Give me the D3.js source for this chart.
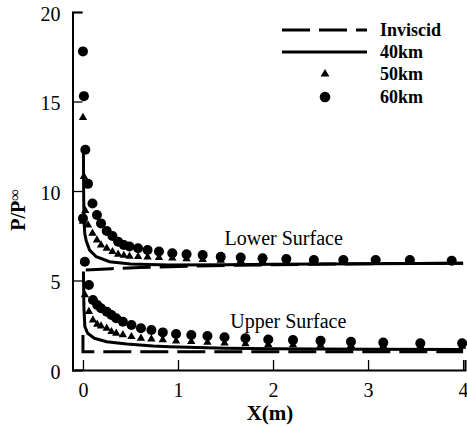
<!DOCTYPE html>
<html><head><meta charset="utf-8">
<script src="https://cdn.jsdelivr.net/npm/d3@7"></script>
<style>body{margin:0;background:#fff}svg{display:block}</style>
</head><body><svg id="c" width="467" height="429"></svg>
<script>
// ---- data ----
const xTicks = [0,1,2,3,4];
const yTicks = [0,5,10,15,20];
const legendLabels = ["Inviscid","40km","50km","60km"];

// Inviscid
const invLowerX = [0.03,0.3,0.6,1,1.5,2,3,4];
const invLowerP = [5.58,5.66,5.72,5.78,5.84,5.88,5.94,5.97];
const invUpperX = [0,0,4];
const invUpperP = [1.95,1.02,1.02];

// 40km (solid)
const km40LowerX = [0.005,0.008,0.012,0.02,0.035,0.07,0.14,0.28,0.5,0.9,1.5,2,3,4];
const km40LowerP = [12.2,9.5,8.2,7.6,7.2,6.7,6.33,6.05,5.92,5.87,5.88,5.91,5.94,5.97];
const km40UpperX = [0.005,0.01,0.02,0.05,0.12,0.25,0.46,0.74,0.91,1.5,2,3,4];
const km40UpperP = [5.5,3.5,2.42,2.05,1.77,1.58,1.45,1.34,1.30,1.22,1.19,1.16,1.15];

// grids of the viscous points
const lowerX = [0,0.01,0.025,0.053,0.1,0.147,0.19,0.25,0.31,0.37,0.43,0.49,0.58,0.68,0.80,0.94,1.09,1.26,1.45,1.66,1.89,2.14,2.43,2.74,3.08,3.44,3.88];
const km60LowerP = [17.8,15.3,12.3,10.4,9.3,8.66,8.19,7.77,7.49,7.17,6.98,6.90,6.80,6.70,6.62,6.52,6.46,6.42,6.32,6.28,6.24,6.20,6.15,6.15,6.15,6.14,6.10];
const km50LowerP = [14.1,10.8,8.9,8.1,7.63,7.26,6.98,6.80,6.61,6.46,6.40,6.35,6.33,6.31,6.28,6.25,6.21,6.17,6.13,6.10,6.08,6.07,6.06,6.05,6.04,6.04,6.03];

const upperX = [0,0.02,0.063,0.105,0.15,0.19,0.25,0.30,0.35,0.42,0.51,0.61,0.72,0.84,0.98,1.14,1.31,1.49,1.71,1.95,2.21,2.50,2.82,3.16,3.55,3.99];
const km60UpperP = [8.47,6.05,4.75,3.91,3.63,3.45,3.26,3.07,2.89,2.70,2.51,2.33,2.23,2.10,2.01,1.96,1.90,1.83,1.77,1.70,1.67,1.64,1.58,1.53,1.49,1.49];
const km50UpperP = [8.3,4.2,3.26,2.79,2.55,2.45,2.33,2.14,2.05,1.96,1.86,1.77,1.73,1.68,1.62,1.58,1.54,1.50,1.46,1.42,1.40,1.38,1.36,1.34,1.33,1.32];

// ---- chart ----
const svg = d3.select("#c");
const font = "'Liberation Serif','Times New Roman',serif";
const x = d3.scaleLinear().domain([-0.11,4.02]).range([72.5,465]);
const y = d3.scaleLinear().domain([0,20]).range([370,12]);

const zip = (a,b)=>a.map((v,i)=>[v,b[i]]);
const line = d3.line().x(d=>x(d[0])).y(d=>y(d[1]));
const dash = "28,9";

function path(data, dashed){
  svg.append("path").attr("d", line(data)).attr("fill","none")
    .attr("stroke","#000").attr("stroke-width",3)
    .attr("stroke-dasharray", dashed ? dash : null);
}
path(zip(invLowerX,invLowerP), true);
path(zip(invUpperX,invUpperP), true);
path(zip(km40LowerX,km40LowerP), false);
path(zip(km40UpperX,km40UpperP), false);

const tri = d3.symbol().type(d3.symbolTriangle).size(30);
function tris(xs, ps){
  svg.append("g").selectAll("path").data(zip(xs,ps)).join("path")
    .attr("d", tri).attr("transform", d=>`translate(${x(d[0])},${y(d[1])})`)
    .attr("fill","#000");
}
function dots(xs, ps){
  svg.append("g").selectAll("circle").data(zip(xs,ps)).join("circle")
    .attr("cx", d=>x(d[0])).attr("cy", d=>y(d[1])).attr("r",5).attr("fill","#000");
}
tris(lowerX, km50LowerP);
tris(upperX, km50UpperP);
dots(lowerX, km60LowerP);
dots(upperX, km60UpperP);

// axes
const gx = svg.append("g").attr("transform","translate(0,370)");
gx.call(d3.axisBottom(x).tickValues(d3.range(0,4.001,0.2)).tickSize(-5).tickFormat(""));
gx.call(d3.axisBottom(x).tickValues(xTicks).tickSize(-10).tickFormat(d3.format("d")).tickPadding(13));
const gy = svg.append("g").attr("transform","translate(72.5,0)");
gy.call(d3.axisLeft(y).tickValues(d3.range(0,20.001,1)).tickSize(-5).tickFormat(""));
gy.call(d3.axisLeft(y).tickValues(yTicks).tickSize(-10).tickFormat(d3.format("d")).tickPadding(12));
svg.selectAll(".domain").attr("stroke","#000").attr("stroke-width",2);
svg.selectAll(".tick line").attr("stroke","#000").attr("stroke-width",1.3);
svg.selectAll(".tick text").attr("font-family",font).attr("font-size",20).attr("fill","#000");
gy.selectAll(".tick text").attr("dy","0.42em");

// axis titles
svg.append("text").attr("x",270).attr("y",420).attr("text-anchor","middle")
  .attr("font-family",font).attr("font-weight","bold").attr("font-size",21).text("X(m)");
const yl = svg.append("text").attr("transform","translate(25,210) rotate(-90)")
  .attr("text-anchor","middle").attr("font-family",font).attr("font-weight","bold").attr("font-size",20);
yl.append("tspan").text("P/P");
yl.append("tspan").attr("font-size",16).attr("dy",-5).text("∞");

// annotations
svg.append("text").attr("x",x(1.49)).attr("y",y(6.98)).attr("font-family",font)
  .attr("font-size",20).text("Lower Surface");
svg.append("text").attr("x",x(1.55)).attr("y",y(2.33)).attr("font-family",font)
  .attr("font-size",20).text("Upper Surface");

// legend
const lg = svg.append("g");
const rows = [30,52,74,97];
lg.append("line").attr("x1",282).attr("x2",367).attr("y1",rows[0]).attr("y2",rows[0])
  .attr("stroke","#000").attr("stroke-width",3).attr("stroke-dasharray",dash);
lg.append("line").attr("x1",282).attr("x2",367).attr("y1",rows[1]).attr("y2",rows[1])
  .attr("stroke","#000").attr("stroke-width",3);
lg.append("path").attr("d",d3.symbol().type(d3.symbolTriangle).size(34)).attr("transform",`translate(325,${rows[2]})`);
lg.append("circle").attr("cx",325).attr("cy",rows[3]).attr("r",5.3);
legendLabels.forEach((t,i)=>{
  lg.append("text").attr("x",380).attr("y",rows[i]+6).attr("font-family",font)
    .attr("font-weight","bold").attr("font-size",18).text(t);
});
</script></body></html>
